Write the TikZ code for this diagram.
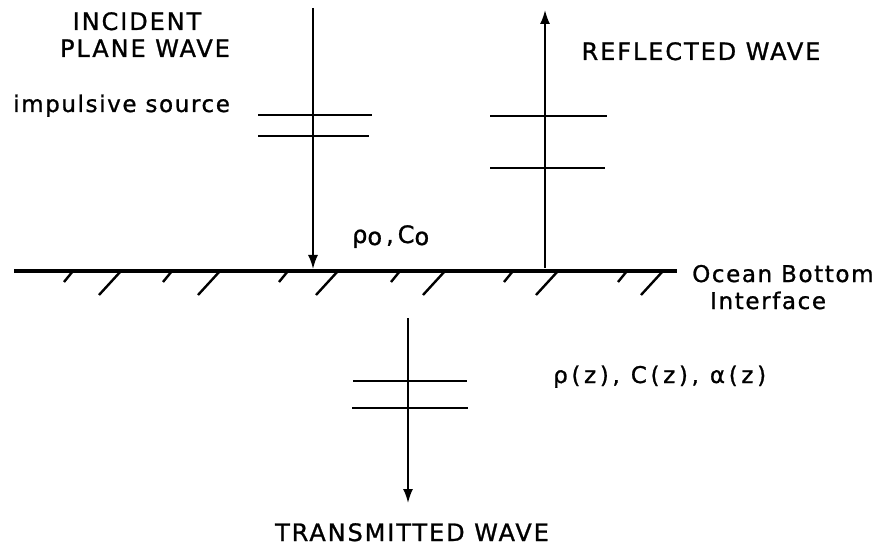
\documentclass[tikz,border=0pt]{standalone}
\usepackage{fontspec}
\newfontfamily\leroy[LetterSpace=8,FakeBold=1]{DejaVu Sans}
\newfontfamily\leroylow[LetterSpace=7,FakeBold=1]{DejaVu Sans}
\newfontfamily\leroywide[LetterSpace=16,FakeBold=1]{DejaVu Sans}
\usetikzlibrary{arrows.meta}
\begin{document}
\begin{tikzpicture}[x=1pt,y=-1pt,
  wave/.style={line width=1.8pt,-{Latex[length=14pt,width=10pt]}},
  front/.style={line width=2.8pt},
  ground/.style={line width=3.2pt},
  hatch/.style={line width=2.4pt},
  caps/.style={inner sep=0pt,anchor=base,font=\leroy\fontsize{24}{28}\selectfont},
  lower/.style={inner sep=0pt,anchor=base west,font=\leroylow\fontsize{23}{27}\selectfont}]
\fill[white] (0,0) rectangle (872,553);
\useasboundingbox (0,0) rectangle (872,553);
% incident wave
\coordinate (iTop) at (313,8);
\coordinate (iBot) at (313,269);
\draw[wave] (iTop) -- (iBot);
\coordinate (i1a) at (258,115); \coordinate (i1b) at (372,115);
\coordinate (i2a) at (258,136); \coordinate (i2b) at (369,136);
\draw[front] (i1a) -- (i1b);
\draw[front] (i2a) -- (i2b);
% reflected wave
\coordinate (rBot) at (545,268);
\coordinate (rTop) at (545,10);
\draw[wave] (rBot) -- (rTop);
\coordinate (r1a) at (490,116); \coordinate (r1b) at (607,116);
\coordinate (r2a) at (490,168); \coordinate (r2b) at (605,168);
\draw[front] (r1a) -- (r1b);
\draw[front] (r2a) -- (r2b);
% transmitted wave
\coordinate (tTop) at (408,318);
\coordinate (tBot) at (408,503);
\draw[wave] (tTop) -- (tBot);
\coordinate (t1a) at (353,381); \coordinate (t1b) at (467,381);
\coordinate (t2a) at (352,408); \coordinate (t2b) at (468,408);
\draw[front] (t1a) -- (t1b);
\draw[front] (t2a) -- (t2b);
% interface
\coordinate (gL) at (14,271);
\coordinate (gR) at (677,271);
\draw[ground] (gL) -- (gR);
\foreach \x in {73,172,288,400,513,627}
  \draw[hatch] (\x,271) -- ++(-9,11);
\foreach \x in {121,220,338,445,558,663}
  \draw[hatch] (\x,271) -- ++(-22,24);
% labels
\node[caps] (inc) at (137,30) {INCIDENT};
\node[caps] (pw) at (145,57) {PLANE WAVE};
\node[lower] (imp) at (13,112) {impulsive source};
\node[caps] (refl) at (701,60) {REFLECTED WAVE};
\node[inner sep=0pt,anchor=base west,font=\leroylow\fontsize{24}{28}\selectfont] (rho0) at (352,243) {ρ\raisebox{-2pt}{o}\,,\,C\raisebox{-2pt}{o}};
\node[lower] (ocean) at (692,282) {Ocean Bottom};
\node[lower] (intf) at (710,309) {Interface};
\node[inner sep=0pt,anchor=base west,font=\leroywide\fontsize{23}{27}\selectfont] (rhoz) at (553,383) {ρ(z), C(z), α(z)};
\node[caps] (trans) at (412,541) {TRANSMITTED WAVE};
\end{tikzpicture}
\end{document}
